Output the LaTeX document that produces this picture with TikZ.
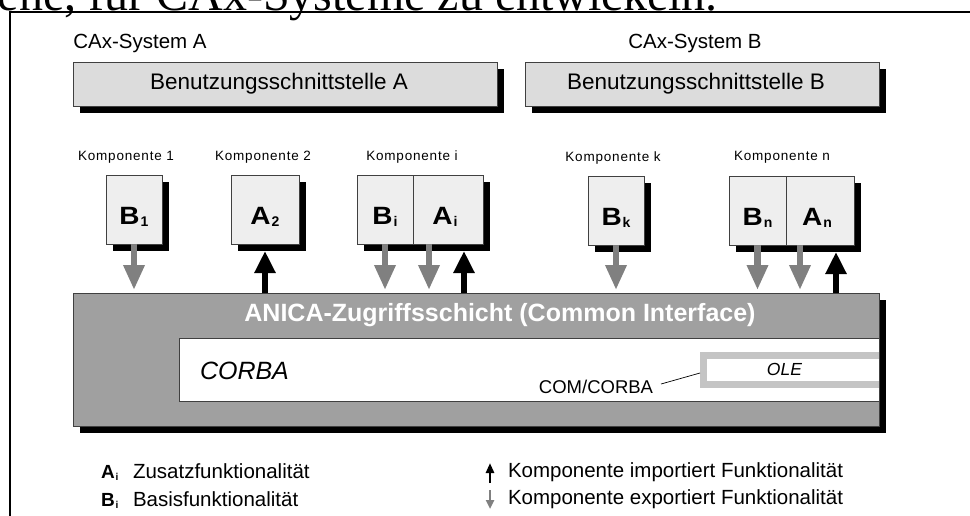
\documentclass[tikz,border=0pt]{standalone}
\usepackage{fontspec}
\usepackage{graphicx}
\setmainfont{Liberation Sans}
\newfontfamily\serifpage{Liberation Serif}
\usetikzlibrary{shadows,arrows.meta,calc}

\definecolor{edgegray}{HTML}{404040}
\definecolor{uifill}{HTML}{DCDCDC}
\definecolor{compfill}{HTML}{EEEEEE}
\definecolor{layerfill}{HTML}{A0A0A0}
\definecolor{olefill}{HTML}{C4C4C4}
\definecolor{exportgray}{HTML}{808080}

% bold letter with a small bold index, as in B_1 or A_n
\newcommand\funcname[2]{\scalebox{1.12}[1]{\fontsize{25}{25}\selectfont\bfseries #1}\kern1pt\raisebox{-2pt}{\fontsize{14}{14}\selectfont\bfseries #2}}
\newcommand\legname[2]{{\fontsize{19}{20}\selectfont\bfseries #1}\kern1pt\raisebox{-2pt}{\fontsize{10}{10}\selectfont\bfseries #2}}

\begin{document}
\begin{tikzpicture}[x=1pt,y=-1pt,
  every node/.style={inner sep=0pt,outer sep=0pt},
  blackshadow/.style={drop shadow={shadow xshift=7pt,shadow yshift=-7pt,fill=black,opacity=1}},
  uibox/.style={draw=edgegray,line width=0.8pt,fill=uifill,blackshadow,
    minimum height=44pt,font=\fontsize{22.5}{26}\selectfont},
  compbox/.style={draw=edgegray,line width=0.8pt,fill=compfill,blackshadow,minimum height=69pt},
  complabel/.style={font=\fontsize{13.5}{16}\selectfont\addfontfeature{LetterSpace=6}},
  systitle/.style={font=\fontsize{20.5}{24}\selectfont},
  legtext/.style={anchor=base west,font=\fontsize{20.5}{24}\selectfont},
  exparrow/.style={draw=exportgray,line width=6.5pt,-{Triangle[length=25pt,width=20pt]},shorten >=3pt},
  imparrow/.style={draw=black,line width=6pt,-{Triangle[length=22pt,width=20pt]}},
  expsmall/.style={draw=exportgray,line width=2.5pt,-{Triangle[length=9pt,width=8pt]}},
  impsmall/.style={draw=black,line width=2.5pt,-{Triangle[length=10pt,width=8pt]}}
]
\clip (0,0) rectangle (970,515);

% running text of the page above the figure
\node[anchor=base west,font=\serifpage\fontsize{48}{48}\selectfont] (pagetext) at (-2,10)
  {ene, für CAx-Systeme zu entwickeln.};

% figure frame
\draw[line width=2pt] (10,520) -- (10,12) -- (980,12);

% systems and their user interfaces
\node[systitle] (sysA) at (140,43) {CAx-System A};
\node[systitle] (sysB) at (695,43) {CAx-System B};
\node[uibox,minimum width=424pt] (uiA) at (285,84) {\hspace*{-12pt}Benutzungsschnittstelle A};
\node[uibox,minimum width=354pt] (uiB) at (702,84) {\hspace*{-12pt}Benutzungsschnittstelle B};

% components
\node[complabel] (k1) at (126,157) {Komponente 1};
\node[complabel] (k2) at (263,157) {Komponente 2};
\node[complabel] (ki) at (412,157) {Komponente i};
\node[complabel] (kk) at (613,158) {Komponente k};
\node[complabel] (kn) at (782,157) {Komponente n};

\node[compbox,minimum width=56pt] (B1) at (134,209.5) {};
\node[compbox,minimum width=68pt] (A2) at (265,209.5) {};
\node[compbox,minimum width=56pt] (Bi) at (385,209.5) {};
\node[compbox,minimum width=70pt] (Ai) at (448,209.5) {};
\node[compbox,minimum width=56pt] (Bk) at (616,210.5) {};
\node[compbox,minimum width=57pt] (Bn) at (757.5,210.5) {};
\node[compbox,minimum width=68pt] (An) at (820,210.5) {};

\node (tB1) at ([yshift=-7pt]B1.center) {\funcname{B}{1}};
\node (tA2) at ([yshift=-7pt]A2.center) {\funcname{A}{2}};
\node (tBi) at ([yshift=-7pt]Bi.center) {\funcname{B}{i}};
\node (tAi) at ([xshift=-3pt,yshift=-7pt]Ai.center) {\funcname{A}{i}};
\node (tBk) at ([yshift=-7pt]Bk.center) {\funcname{B}{k}};
\node (tBn) at ([yshift=-7pt]Bn.center) {\funcname{B}{n}};
\node (tAn) at ([xshift=-3pt,yshift=-7pt]An.center) {\funcname{A}{n}};

% access layer
\node[draw=edgegray,line width=0.8pt,fill=layerfill,blackshadow,
  minimum width=806pt,minimum height=133pt] (layer) at (476,359.5) {};
\node[font=\fontsize{25}{28}\selectfont\bfseries,text=white] (anica) at (500,315)
  {ANICA-Zugriffsschicht (Common Interface)};
\node[draw=edgegray,line width=0.8pt,fill=white,minimum width=700pt,minimum height=63pt]
  (corba) at (529,369.5) {};
\node[anchor=west,font=\fontsize{25}{28}\selectfont\itshape] (corbatext) at (200,371) {CORBA};
\node[fill=olefill,minimum width=179pt,minimum height=36pt] (oleframe) at (789.5,370) {};
\node[fill=white,minimum width=172pt,minimum height=22pt] (oleinner) at (793,370) {};
\node[font=\fontsize{17.5}{20}\selectfont\itshape] (oletext) at (784.5,369) {OLE};
\node[font=\fontsize{18.5}{22}\selectfont] (comcorba) at (596,387) {COM/CORBA};
\draw[line width=0.7pt] ([xshift=8pt,yshift=3pt]comcorba.east) -- ([yshift=-3pt]oleframe.west);

% export connectors (component -> layer)
\draw[exparrow] (B1.south) -- (B1.south |- layer.north);
\draw[exparrow] (Bi.south) -- (Bi.south |- layer.north);
\draw[exparrow] ([xshift=-19pt]Ai.south) -- ([xshift=-19pt]Ai.south |- layer.north);
\draw[exparrow] (Bk.south) -- (Bk.south |- layer.north);
\draw[exparrow] (Bn.south) -- (Bn.south |- layer.north);
\draw[exparrow] ([xshift=-20pt]An.south) -- ([xshift=-20pt]An.south |- layer.north);

% import connectors (layer -> component)
\draw[imparrow] (A2.south |- layer.north) -- ([yshift=-7pt]A2.south);
\draw[imparrow] ([xshift=16pt]Ai.south |- layer.north) -- ([xshift=16pt,yshift=-7pt]Ai.south);
\draw[imparrow] ([xshift=16pt]An.south |- layer.north) -- ([xshift=16pt,yshift=-7pt]An.south);

% legend
\node[anchor=base west] (legA) at (101,478) {\legname{A}{i}};
\node[anchor=base west] (legB) at (101,506) {\legname{B}{i}};
\node[legtext] (legAtext) at (133,478) {Zusatzfunktionalität};
\node[legtext] (legBtext) at (133,506) {Basisfunktionalität};
\node[legtext] (legimp) at (508,477) {Komponente importiert Funktionalität};
\node[legtext] (legexp) at (508,504) {Komponente exportiert Funktionalität};
\coordinate (impfoot) at (490,483);
\coordinate (imptop) at (490,463);
\coordinate (exptop) at (490,490);
\coordinate (expfoot) at (490,509);
\draw[impsmall] (impfoot) -- (imptop);
\draw[expsmall] (exptop) -- (expfoot);
\end{tikzpicture}
\end{document}
